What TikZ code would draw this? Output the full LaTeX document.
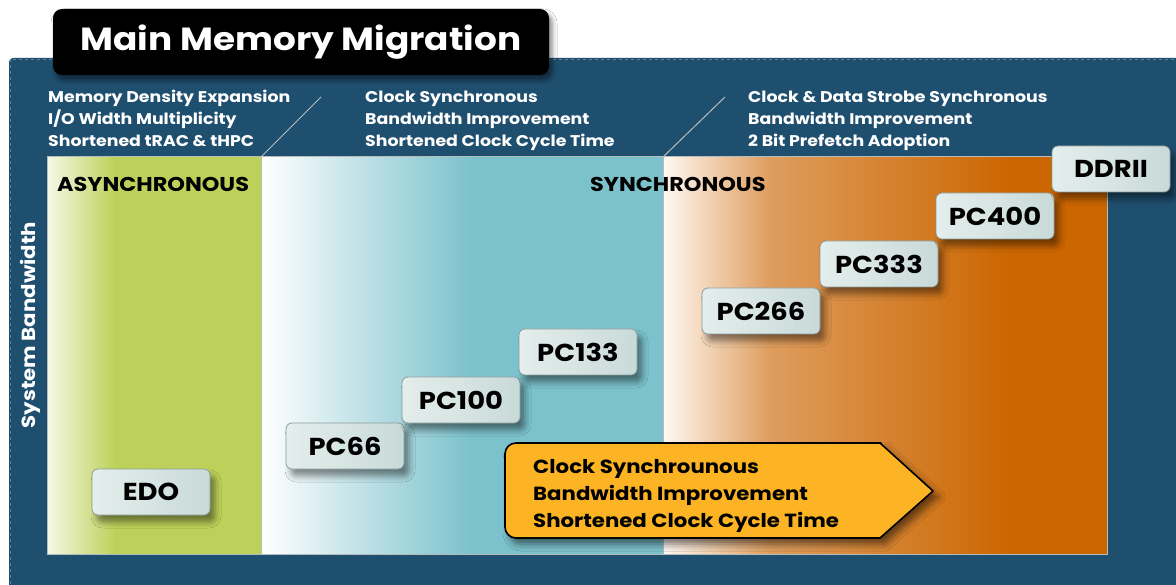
\documentclass[tikz,border=0pt]{standalone}
\usepackage{fontspec}
\setmainfont{Poppins}[FakeStretch=1.12]
\usetikzlibrary{positioning,calc,shadows.blur}
\definecolor{panelblue}{HTML}{1F4F6F}
\definecolor{paneledge}{HTML}{5C8199}
\definecolor{chartedge}{HTML}{B4BCBC}
\definecolor{asyncgreen}{HTML}{BDD15A}
\definecolor{asynclight}{HTML}{F6F8E6}
\definecolor{syncteal}{HTML}{7CC2CC}
\definecolor{ddrorange}{HTML}{CC6600}
\definecolor{ddrmid}{HTML}{DE9D5E}
\definecolor{ddrlight}{HTML}{FFF9F3}
\definecolor{boxlight}{HTML}{E4EEEC}
\definecolor{boxdark}{HTML}{C8DAD8}
\definecolor{boxedge}{HTML}{8C9C9C}
\definecolor{signyellow}{HTML}{FCB424}

\begin{document}
\begin{tikzpicture}[
    x=1pt, y=-1pt,
    nosep/.style={inner sep=0},
    featuretext/.style={nosep, anchor=base west, align=left, text=white,
        font=\fontsize{15.5}{22}\selectfont\bfseries},
    eralabel/.style={nosep, anchor=west, font=\fontsize{20}{20}\selectfont\bfseries},
    membox/.style={rectangle, rounded corners=6pt, draw=boxedge, line width=0.8pt,
        left color=boxlight, right color=boxdark,
        minimum width=118pt, minimum height=46pt,
        font=\fontsize{24.5}{24.5}\selectfont\bfseries,
        blur shadow={shadow xshift=5pt, shadow yshift=-7pt, shadow opacity=45, shadow blur radius=6pt}},
    signbox/.style={draw=black, line width=1.6pt, fill=signyellow, line join=round,
        blur shadow={shadow xshift=5pt, shadow yshift=-6pt, shadow opacity=55, shadow blur radius=7pt}},
    divider/.style={draw=chartedge, line width=1pt}]
\useasboundingbox (0,0) rectangle (1176,585);
\fill[white] (0,0) rectangle (1176,585);

\fill[panelblue, rounded corners=4pt] (9,58) rectangle (1190,600);
\draw[paneledge, dashed, line width=0.7pt] (10,590) -- (10,59) -- (1176,59);

\node[nosep, fill=black, rounded corners=9pt, minimum width=496pt, minimum height=66pt,
      text=white, font=\fontsize{32}{32}\selectfont\bfseries,
      blur shadow={shadow xshift=3pt, shadow yshift=-5pt, shadow opacity=50, shadow blur radius=5pt}]
      (title) at (301,42) {Main Memory Migration};

\node[featuretext] (asyncnote) at (48,146.5)
    {Memory Density Expansion\\I/O Width Multiplicity\\Shortened tRAC \& tHPC};
\node[featuretext] (syncnote) at (365,146.5)
    {Clock Synchronous\\Bandwidth Improvement\\Shortened Clock Cycle Time};
\node[featuretext] (ddrnote) at (748,146.5)
    {Clock \& Data Strobe Synchronous\\Bandwidth Improvement\\2 Bit Prefetch Adoption};

\fill[asyncgreen] (47,157) rectangle (261,554);
\shade[left color=asynclight, right color=asyncgreen] (47,157) rectangle (115,554);
\fill[syncteal] (261,157) rectangle (663,554);
\shade[left color=white, right color=syncteal] (261,157) rectangle (470,554);
\fill[ddrorange] (663,157) rectangle (1107,554);
\shade[left color=ddrlight, right color=ddrmid] (663,157) rectangle (770,554);
\shade[left color=ddrmid, right color=ddrorange] (770,157) rectangle (1010,554);
\draw[chartedge, line width=1pt] (47,157) rectangle (1107,554);
\path[divider] (261,157) -- (261,554) (663,157) -- (663,554);
\path[divider] (261,157) -- (321,97);
\path[divider] (663,157) -- (725,97);

\node[eralabel] (asynclabel) at (57,184) {ASYNCHRONOUS};
\node[eralabel] (synclabel) at (590,184) {SYNCHRONOUS};
\node[nosep, rotate=90, text=white, font=\fontsize{19}{19}\selectfont\bfseries]
    (axislabel) at (30,325) {System Bandwidth};

\foreach \nm/\px/\py in {EDO/151/492, PC66/345/446, PC100/461/400, PC133/578/352,
                         PC266/761/311, PC333/879/264, PC400/995/216, DDRII/1111/169}
    \node[membox] (\nm) at (\px,\py) {\nm};

\coordinate (signtip) at (933,491);
\path[signbox] (505,490) [rounded corners=11pt] -- (505,443) -- (870,443) [sharp corners]
    -- (880,443) -- (signtip) -- (880,538) -- (870,538) [rounded corners=11pt] -- (505,538) -- cycle;
\node[nosep, anchor=base west, align=left, font=\fontsize{19}{27}\selectfont\bfseries]
    (signtext) at (533,527)
    {Clock Synchrounous\\Bandwidth Improvement\\Shortened Clock Cycle Time};

\end{tikzpicture}
\end{document}
